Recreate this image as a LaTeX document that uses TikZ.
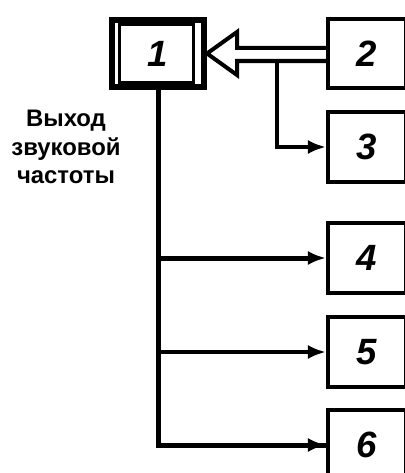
\documentclass[tikz,border=0pt]{standalone}
\usepackage{fontspec}
\setmainfont{Liberation Sans}
\usetikzlibrary{arrows.meta}
\tikzset{
unit/.style={draw, line width=0.1cm, minimum width=1.95cm, minimum height=1.725cm, inner sep=0pt,
  font=\fontsize{26}{26}\selectfont\bfseries\itshape},
mainunit/.style={unit, line width=0.15cm, minimum width=2.3cm, minimum height=1.675cm},
feed/.style={line width=0.09cm, -{Latex[length=0.45cm,width=0.35cm]}},
trunk/.style={line width=0.125cm}
}

\begin{document}
\begin{tikzpicture}[x=0.025cm, y=-0.025cm]
  \clip (0,0) rectangle (405,473);
  \node[mainunit] (b1) at (158,53.5) {1};
  \draw[line width=0.075cm] (b1.center) ++(-39,-29) rectangle ++(74,58);
  \node[unit] (b2) at (367,53.5) {2};
  \node[unit] (b3) at (367,147) {3};
  \node[unit] (b4) at (367,258) {4};
  \node[unit] (b5) at (367,352) {5};
  \node[unit] (b6) at (367,445) {6};
  \node[align=center, font=\fontsize{17}{20}\selectfont\bfseries] (out) at (66,147) {Выход\\звуковой\\частоты};
  \coordinate (hi) at (237,48);
  \coordinate (lo) at (237,61);
  \coordinate (tap) at (277,61);
  \draw[line width=0.1cm, miter limit=4] (hi -| b2.west) -- (hi) -- (237,32) -- (b1.east) -- (237,75) -- (lo) -- (lo -| b2.west);
  \draw[feed] (tap) |- (b3.west);
  \draw[trunk] (b1.south) |- (b6.west);
  \draw[feed] (b1.south |- b6.west) -- (b6.west);
  \draw[feed, line width=0.125cm] (b1.south |- b4.west) -- (b4.west);
  \draw[feed] (b1.south |- b5.west) -- (b5.west);
\end{tikzpicture}
\end{document}
